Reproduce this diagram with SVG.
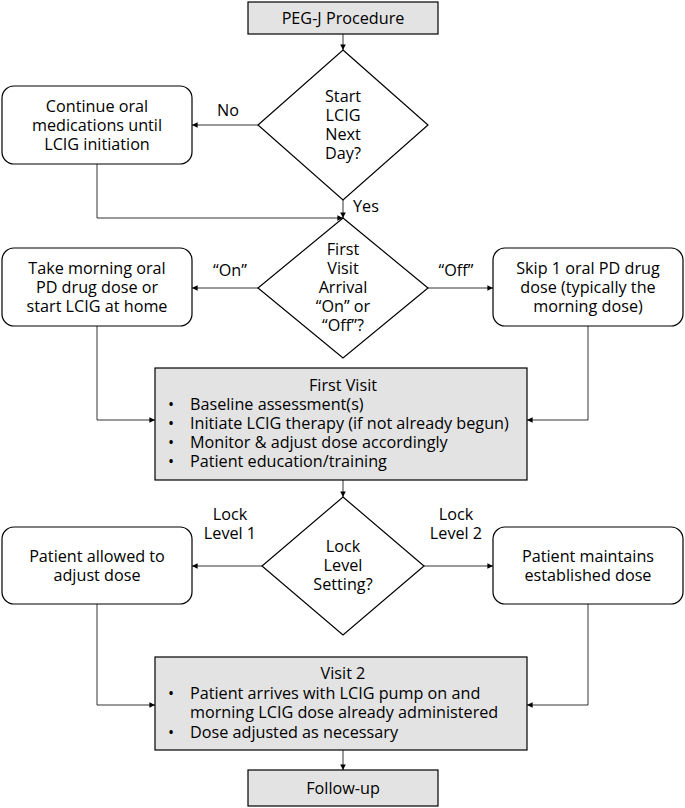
<svg xmlns="http://www.w3.org/2000/svg" width="685" height="808" viewBox="0 0 685 808">
<defs><marker id="a" viewBox="0 0 10 10" refX="10" refY="5" markerWidth="7" markerHeight="7" orient="auto"><path d="M0,0L10,5L0,10z" fill="#000"/></marker></defs>
<style>
text{font-family:"Open Sans","Liberation Sans",sans-serif;font-size:16.2px;fill:#000}
.g{fill:#e3e3e3;stroke:#000;stroke-width:1.2}
.w{fill:#fff;stroke:#000;stroke-width:1.2}
.c{text-anchor:middle}
.l{fill:none;stroke:#000;stroke-width:0.8;marker-end:url(#a)}
</style>
<rect width="685" height="808" fill="#fff"/>
<g id="connectors">
<path class="l" d="M343,34V50"/>
<path class="l" d="M258,125H192"/>
<path class="l" d="M97,164V218H343"/>
<path class="l" d="M343,200V218"/>
<path class="l" d="M258,288H192"/>
<path class="l" d="M428,288H493"/>
<path class="l" d="M97,326V420H155"/>
<path class="l" d="M588,326V420H527"/>
<path class="l" d="M343,480V497"/>
<path class="l" d="M262,566H192"/>
<path class="l" d="M424,566H493"/>
<path class="l" d="M97,604V705H155"/>
<path class="l" d="M588,604V705H527"/>
<path class="l" d="M343,750V770"/>
<text x="228" y="116" class="c">No</text>
<text x="366" y="212" class="c">Yes</text>
<text x="230" y="276" class="c">“On”</text>
<text x="456" y="276" class="c">“Off”</text>
<text x="230" y="520" class="c">Lock</text>
<text x="230" y="539" class="c">Level 1</text>
<text x="456" y="520" class="c">Lock</text>
<text x="456" y="539" class="c">Level 2</text>
</g>
<g id="n1"><rect class="g" x="248" y="2" width="190" height="32"/><text x="343" y="24" class="c">PEG-J Procedure</text></g>
<g id="n2"><path class="w" d="M343,50L428,125L343,200L258,125z"/><text class="c"><tspan x="343" y="102">Start</tspan><tspan x="343" y="121">LCIG</tspan><tspan x="343" y="140">Next</tspan><tspan x="343" y="159">Day?</tspan></text></g>
<g id="n3"><rect class="w" x="2" y="86" width="190" height="78" rx="12"/><text class="c"><tspan x="97" y="112">Continue oral</tspan><tspan x="97" y="131">medications until</tspan><tspan x="97" y="150">LCIG initiation</tspan></text></g>
<g id="n4"><path class="w" d="M343,218L428,288L343,358L258,288z"/><text class="c"><tspan x="343" y="255">First</tspan><tspan x="343" y="274">Visit</tspan><tspan x="343" y="293">Arrival</tspan><tspan x="343" y="312">“On” or</tspan><tspan x="343" y="331">“Off”?</tspan></text></g>
<g id="n5"><rect class="w" x="2" y="248" width="190" height="78" rx="12"/><text class="c"><tspan x="97" y="274">Take morning oral</tspan><tspan x="97" y="293">PD drug dose or</tspan><tspan x="97" y="312">start LCIG at home</tspan></text></g>
<g id="n6"><rect class="w" x="493" y="248" width="190" height="78" rx="12"/><text class="c"><tspan x="588" y="274">Skip 1 oral PD drug</tspan><tspan x="588" y="293">dose (typically the</tspan><tspan x="588" y="312">morning dose)</tspan></text></g>
<g id="n7"><rect class="g" x="155" y="368" width="372" height="112"/><text x="343" y="391" class="c">First Visit</text><text><tspan x="168" y="410">•</tspan><tspan x="190" y="410">Baseline assessment(s)</tspan><tspan x="168" y="429">•</tspan><tspan x="190" y="429">Initiate LCIG therapy (if not already begun)</tspan><tspan x="168" y="448">•</tspan><tspan x="190" y="448">Monitor &amp; adjust dose accordingly</tspan><tspan x="168" y="467">•</tspan><tspan x="190" y="467">Patient education/training</tspan></text></g>
<g id="n8"><path class="w" d="M343,497L424,566L343,635L262,566z"/><text class="c"><tspan x="343" y="552">Lock</tspan><tspan x="343" y="571">Level</tspan><tspan x="343" y="590">Setting?</tspan></text></g>
<g id="n9"><rect class="w" x="2" y="527" width="190" height="77" rx="12"/><text class="c"><tspan x="97" y="562">Patient allowed to</tspan><tspan x="97" y="581">adjust dose</tspan></text></g>
<g id="n10"><rect class="w" x="493" y="527" width="190" height="77" rx="12"/><text class="c"><tspan x="588" y="562">Patient maintains</tspan><tspan x="588" y="581">established dose</tspan></text></g>
<g id="n11"><rect class="g" x="155" y="657" width="372" height="93"/><text x="343" y="679" class="c">Visit 2</text><text><tspan x="168" y="699">•</tspan><tspan x="190" y="699">Patient arrives with LCIG pump on and</tspan><tspan x="190" y="718">morning LCIG dose already administered</tspan><tspan x="168" y="738">•</tspan><tspan x="190" y="738">Dose adjusted as necessary</tspan></text></g>
<g id="n12"><rect class="g" x="248" y="770" width="190" height="36"/><text x="343" y="794" class="c">Follow-up</text></g>
</svg>
